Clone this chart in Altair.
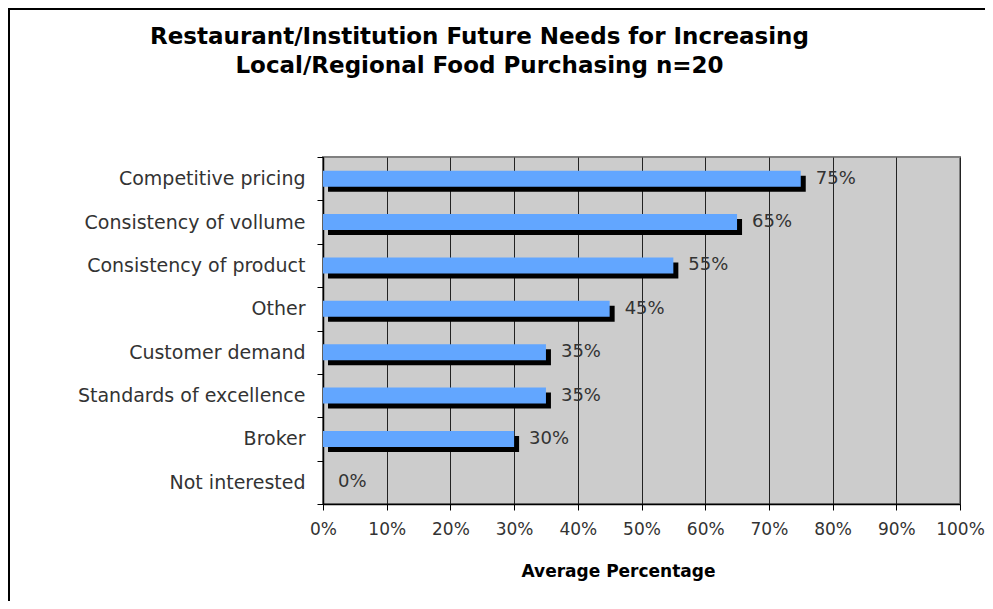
import altair as alt
import pandas as pd

categories = ["Competitive pricing", "Consistency of vollume", "Consistency of product",
              "Other", "Customer demand", "Standards of excellence", "Broker", "Not interested"]
values = [0.75, 0.65, 0.55, 0.45, 0.35, 0.35, 0.30, 0.0]
x_ticks = [0, 0.1, 0.2, 0.3, 0.4, 0.5, 0.6, 0.7, 0.8, 0.9, 1.0]

df = pd.DataFrame({"category": categories, "value": values})

FONT = "DejaVu Sans"
W, H = 637, 347
PAD_L, PAD_T, PAD_R, PAD_B = 315, 149, 25, 97

y_enc = alt.Y("category:N", sort=categories, title=None,
              scale=alt.Scale(paddingInner=0, paddingOuter=0),
              axis=alt.Axis(tickBand="extent", tickSize=6, tickColor="black",
                            domainColor="black", domainWidth=1.5, labelPadding=12,
                            labelFontSize=19, labelColor="#333333", labelFont=FONT,
                            labelLimit=400, grid=False))
x_enc = alt.X("value:Q", scale=alt.Scale(domain=[0, 1], nice=False),
              title="Average Percentage",
              axis=alt.Axis(values=x_ticks, format=".0%", tickSize=6, tickColor="black",
                            domainColor="black", domainWidth=1.5,
                            labelFontSize=17, labelColor="#333333", labelFont=FONT,
                            labelPadding=11, labelOverlap=False, labelFlush=False,
                            grid=True, gridColor="#222222", gridWidth=1,
                            titleFontSize=17, titleFontWeight="bold", titleColor="black",
                            titleFont=FONT, titlePadding=26, titleX=295))

base = alt.Chart(df)

shadow = base.mark_bar(color="black", size=16, xOffset=5, x2Offset=5, yOffset=5, y2Offset=5).encode(
    x=x_enc, y=y_enc)
bars = base.mark_bar(color="#62A6FF", size=16).encode(x=x_enc, y=y_enc)
labels = base.mark_text(align="left", baseline="middle", dx=15, fontSize=18,
                        color="#333333", font=FONT).encode(
    x=x_enc, y=y_enc, text=alt.Text("value:Q", format=".0%"))

border_df = pd.DataFrame({"a": [0]})
left_border = alt.Chart(border_df).mark_rule(color="black", strokeWidth=2).encode(
    x=alt.value(-PAD_L + 1), y=alt.value(-PAD_T + 1), y2=alt.value(H + PAD_B))
top_border = alt.Chart(border_df).mark_rule(color="black", strokeWidth=2).encode(
    x=alt.value(-PAD_L), x2=alt.value(W + PAD_R), y=alt.value(-PAD_T + 1))

chart = alt.layer(shadow, bars, labels, left_border, top_border).properties(
    width=W, height=H,
    title=alt.Title(["Restaurant/Institution Future Needs for Increasing",
                     "Local/Regional Food Purchasing n=20"],
                    fontSize=23, fontWeight="bold", font=FONT, color="black",
                    anchor="middle", dx=-162, dy=152, offset=82, lineHeight=29),
    autosize=alt.AutoSizeParams(type="none"),
    padding={"left": PAD_L, "top": PAD_T, "right": PAD_R, "bottom": PAD_B},
).configure_view(fill="#CCCCCC", stroke="#808080", strokeWidth=2)

chart.save("out.html", embed_options={"renderer": "svg", "actions": False})
